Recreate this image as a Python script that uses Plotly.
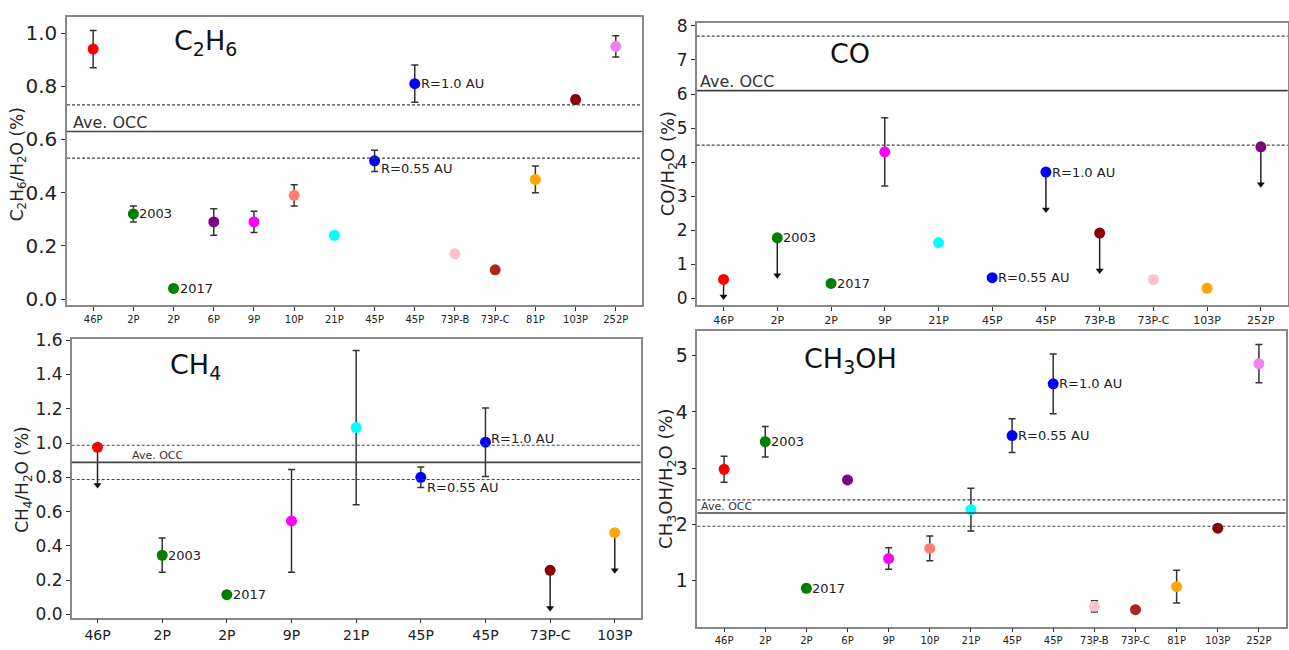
import plotly.graph_objects as go

# ---------------- DATA ----------------
# C2H6
c2h6_cats = ["46P", "2P", "2P", "6P", "9P", "10P", "21P", "45P", "45P", "73P-B", "73P-C", "81P", "103P", "252P"]
c2h6_vals = [0.94, 0.32, 0.04, 0.29, 0.29, 0.39, 0.24, 0.52, 0.81, 0.17, 0.11, 0.45, 0.75, 0.95]
c2h6_err = [0.07, 0.03, 0.0, 0.05, 0.04, 0.04, 0.0, 0.04, 0.07, 0.0, 0.0, 0.05, 0.015, 0.04]
c2h6_lim = [0] * 14
c2h6_colors = ["red", "green", "green", "purple", "magenta", "salmon", "cyan", "blue", "blue", "pink", "firebrick", "orange", "darkred", "violet"]
c2h6_notes = ["", "2003", "2017", "", "", "", "", "R=0.55 AU", "R=1.0 AU", "", "", "", "", ""]
c2h6_occ = [0.63, 0.10]

# CO
co_cats = ["46P", "2P", "2P", "9P", "21P", "45P", "45P", "73P-B", "73P-C", "103P", "252P"]
co_vals = [0.56, 1.78, 0.44, 4.3, 1.64, 0.61, 3.71, 1.92, 0.55, 0.30, 4.45]
co_err = [0.0, 0.0, 0.0, 1.0, 0.0, 0.0, 0.0, 0.0, 0.1, 0.1, 0.0]
co_lim = [0.5, 1.1, 0, 0, 0, 0, 1.1, 1.1, 0, 0, 1.1]
co_colors = ["red", "green", "green", "magenta", "cyan", "blue", "blue", "darkred", "pink", "orange", "purple"]
co_notes = ["", "2003", "2017", "", "", "R=0.55 AU", "R=1.0 AU", "", "", "", ""]
co_occ = [6.1, 1.6]

# CH4
ch4_cats = ["46P", "2P", "2P", "9P", "21P", "45P", "45P", "73P-C", "103P"]
ch4_vals = [0.975, 0.345, 0.115, 0.545, 1.09, 0.80, 1.005, 0.257, 0.477]
ch4_err = [0.0, 0.10, 0.0, 0.30, 0.45, 0.06, 0.20, 0.0, 0.0]
ch4_lim = [0.22, 0, 0, 0, 0, 0, 0, 0.22, 0.22]
ch4_colors = ["red", "green", "green", "magenta", "cyan", "blue", "blue", "darkred", "orange"]
ch4_notes = ["", "2003", "2017", "", "", "R=0.55 AU", "R=1.0 AU", "", ""]
ch4_occ = [0.887, 0.10]

# CH3OH
ch3oh_cats = ["46P", "2P", "2P", "6P", "9P", "10P", "21P", "45P", "45P", "73P-B", "73P-C", "81P", "103P", "252P"]
ch3oh_vals = [2.98, 3.47, 0.86, 2.79, 1.39, 1.57, 2.26, 3.58, 4.50, 0.54, 0.48, 0.89, 1.93, 4.86]
ch3oh_err = [0.23, 0.27, 0.07, 0.0, 0.19, 0.22, 0.38, 0.30, 0.53, 0.10, 0.0, 0.29, 0.0, 0.34]
ch3oh_lim = [0] * 14
ch3oh_colors = ["red", "green", "green", "purple", "magenta", "salmon", "cyan", "blue", "blue", "pink", "firebrick", "orange", "darkred", "violet"]
ch3oh_notes = ["", "2003", "2017", "", "", "", "", "R=0.55 AU", "R=1.0 AU", "", "", "", "", ""]
ch3oh_occ = [2.2, 0.235]

FONT = "DejaVu Sans"

panels = [
    dict(cats=c2h6_cats, vals=c2h6_vals, err=c2h6_err, lim=c2h6_lim, colors=c2h6_colors, notes=c2h6_notes, occ=c2h6_occ,
         xd=[0.052, 0.498], yd=[0.532, 0.986], yr=[-0.023, 1.061], dtick=0.2, tickfmt=".1f", ytf=20, xtf=10,
         title="C<sub>2</sub>H<sub>6</sub>", tpos=(205, 35), tsize=27,
         ytitle="C<sub>2</sub>H<sub>6</sub>/H<sub>2</sub>O (%)", ytpos=(18, 160), ytsize=17,
         occ_x=-0.55, occ_size=16, note_shift={"R=0.55 AU": -8}),
    dict(cats=co_cats, vals=co_vals, err=co_err, lim=co_lim, colors=co_colors, notes=co_notes, occ=co_occ,
         xd=[0.5405, 0.999], yd=[0.5315, 0.977], yr=[-0.206, 8.095], dtick=1, tickfmt="d", ytf=17, xtf=11,
         title="CO", tpos=(850, 47), tsize=27,
         ytitle="CO/H<sub>2</sub>O (%)", ytpos=(669, 160), ytsize=18,
         occ_x=-0.47, occ_size=16, note_shift={}),
    dict(cats=ch4_cats, vals=ch4_vals, err=ch4_err, lim=ch4_lim, colors=ch4_colors, notes=ch4_notes, occ=ch4_occ,
         xd=[0.0556, 0.497], yd=[0.04, 0.4795], yr=[-0.019, 1.61], dtick=0.2, tickfmt=".1f", ytf=17, xtf=14,
         title="CH<sub>4</sub>", tpos=(195, 367), tsize=27,
         ytitle="CH<sub>4</sub>/H<sub>2</sub>O (%)", ytpos=(24, 483), ytsize=17,
         occ_x=0.5, occ_size=11, note_shift={"R=0.55 AU": -10, "R=1.0 AU": 4}),
    dict(cats=ch3oh_cats, vals=ch3oh_vals, err=ch3oh_err, lim=ch3oh_lim, colors=ch3oh_colors, notes=ch3oh_notes, occ=ch3oh_occ,
         xd=[0.541, 0.9974], yd=[0.0257, 0.4908], yr=[0.177, 5.435], dtick=1, tickfmt="d", ytf=19, xtf=10,
         title="CH<sub>3</sub>OH", tpos=(850, 361), tsize=27,
         ytitle="CH<sub>3</sub>OH/H<sub>2</sub>O (%)", ytpos=(667, 482), ytsize=18,
         occ_x=-0.6, occ_size=11, note_shift={}),
]

W, H = 1289, 650
fig = go.Figure()
layout = dict(width=W, height=H, margin=dict(l=0, r=0, t=0, b=0), showlegend=False,
              plot_bgcolor="white", paper_bgcolor="white", font=dict(family=FONT, color="#222"))
annotations = []
shapes = []

for i, p in enumerate(panels):
    k = "" if i == 0 else str(i + 1)
    xa, ya = "x" + k, "y" + k
    n = len(p["cats"])
    xs = list(range(n))

    # upper-limit arrows (line + head)
    li = [j for j in xs if p["lim"][j] > 0]
    if li:
        fig.add_trace(go.Scatter(
            x=li, y=[p["vals"][j] for j in li], mode="markers", xaxis=xa, yaxis=ya,
            marker=dict(size=1, color="rgba(0,0,0,0)"),
            error_y=dict(type="data", symmetric=False, array=[0] * len(li),
                         arrayminus=[p["lim"][j] for j in li], color="#222", thickness=1.5, width=0)))
        fig.add_trace(go.Scatter(
            x=li, y=[p["vals"][j] - p["lim"][j] for j in li], mode="markers", xaxis=xa, yaxis=ya,
            marker=dict(symbol="triangle-down", size=7, color="#111")))

    # error bars
    ei = [j for j in xs if p["err"][j] > 0]
    fig.add_trace(go.Scatter(
        x=ei, y=[p["vals"][j] for j in ei], mode="markers", xaxis=xa, yaxis=ya,
        marker=dict(size=1, color="rgba(0,0,0,0)"),
        error_y=dict(type="data", array=[p["err"][j] for j in ei], color="#333", thickness=1.5, width=3.5)))

    # points
    fig.add_trace(go.Scatter(
        x=xs, y=p["vals"], mode="markers", xaxis=xa, yaxis=ya,
        marker=dict(size=11, color=p["colors"], line=dict(width=0))))

    # Ave OCC lines
    c, d = p["occ"]
    for yv, dash in [(c, "solid"), (c + d, "dash"), (c - d, "dash")]:
        shapes.append(dict(type="line", xref=xa + " domain", yref=ya, x0=0, x1=1, y0=yv, y1=yv,
                           line=dict(color="#444", width=1.6 if dash == "solid" else 1.2,
                                     dash="solid" if dash == "solid" else "3px,2px")))
    annotations.append(dict(x=p["occ_x"], y=c, xref=xa, yref=ya, text="Ave. OCC", showarrow=False,
                            xanchor="left", yanchor="bottom", yshift=-2,
                            font=dict(size=p["occ_size"], color="#333", family=FONT)))

    # point notes
    for j in xs:
        t = p["notes"][j]
        if t:
            annotations.append(dict(x=j, y=p["vals"][j], xref=xa, yref=ya, text=t, showarrow=False,
                                    xanchor="left", yanchor="middle", xshift=4,
                                    yshift=p["note_shift"].get(t, 0),
                                    font=dict(size=13, color="#222", family=FONT)))

    # panel title
    annotations.append(dict(x=p["tpos"][0] / W, y=1 - p["tpos"][1] / H, xref="paper", yref="paper",
                            text=p["title"], showarrow=False, xanchor="center", yanchor="middle",
                            font=dict(size=p["tsize"], color="#111", family=FONT)))
    # y-axis title
    annotations.append(dict(x=p["ytpos"][0] / W, y=1 - p["ytpos"][1] / H, xref="paper", yref="paper",
                            text=p["ytitle"], showarrow=False, textangle=-90, xanchor="center", yanchor="middle",
                            font=dict(size=p["ytsize"], color="#222", family=FONT)))

    axline = dict(showline=True, linecolor="#888", linewidth=1.5, mirror=True, showgrid=False,
                  zeroline=False, ticks="outside", ticklen=4, tickcolor="#333")
    layout["xaxis" + k] = dict(domain=p["xd"], anchor=ya, range=[-0.05 * (n - 1), (n - 1) * 1.05],
                               tickmode="array", tickvals=xs, ticktext=p["cats"],
                               tickfont=dict(size=p["xtf"], color="#222", family=FONT), **axline)
    layout["yaxis" + k] = dict(domain=p["yd"], anchor=xa, range=p["yr"], dtick=p["dtick"],
                               tickformat=p["tickfmt"],
                               tickfont=dict(size=p["ytf"], color="#222", family=FONT), **axline)

layout["annotations"] = annotations
layout["shapes"] = shapes
fig.update_layout(**layout)
fig.write_html("out.html")
